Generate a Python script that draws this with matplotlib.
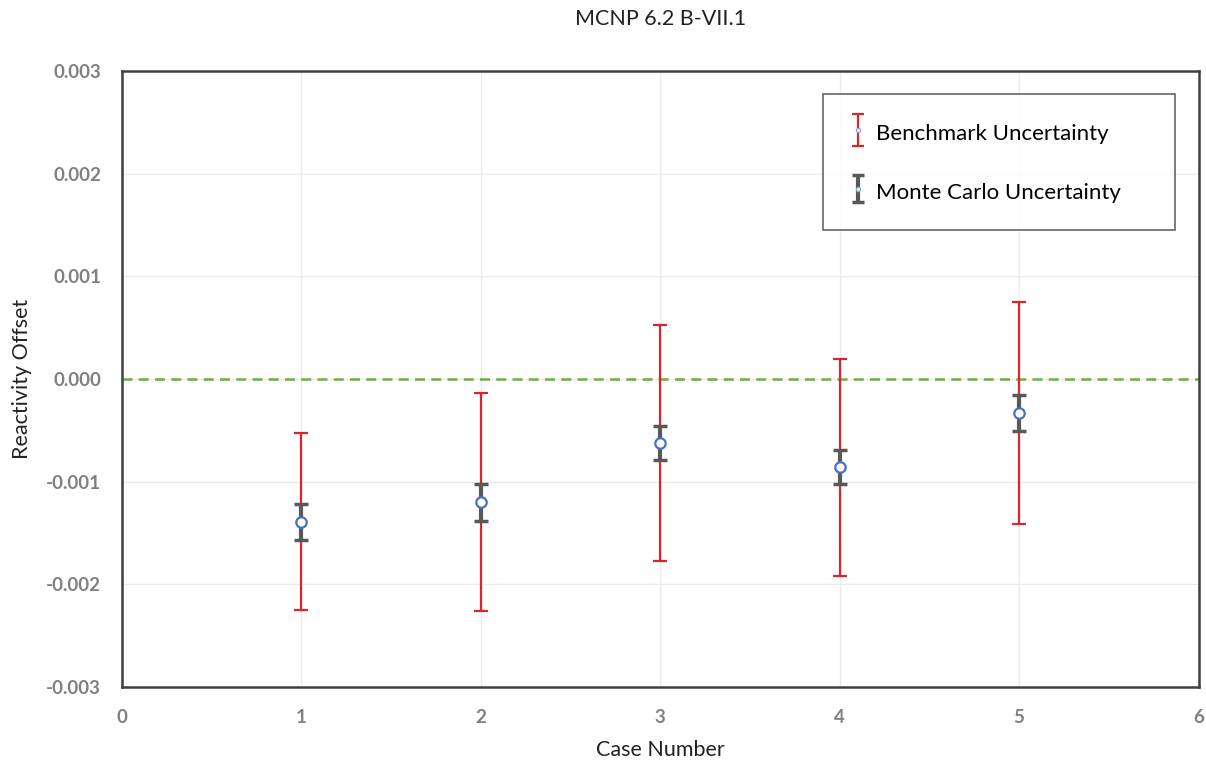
import numpy as np
from matplotlib import pyplot as plt
from matplotlib.legend_handler import HandlerErrorbar

plt.rcParams['font.family'] = ['Lato', 'DejaVu Sans']

# values
cases = [1, 2, 3, 4, 5]
offset = [-0.00139, -0.00120, -0.00062, -0.00086, -0.00033]
bench_unc = [0.00086, 0.00106, 0.00115, 0.00106, 0.00108]
mc_unc = [0.000175, 0.00018, 0.000165, 0.000165, 0.000175]
labels = ['Benchmark Uncertainty', 'Monte Carlo Uncertainty']

RED = '#d9262c'
GRAY = '#595959'
BLUE = '#4472c4'
GREEN = '#70ad47'

fig = plt.figure(figsize=(12.06, 7.65), dpi=100)
ax = fig.add_axes([0.1012, 0.102, 0.8926, 0.805])

ax.axhline(0.0, color=GREEN, ls=(0, (4, 2.5)), lw=1.8, zorder=2)

ax.errorbar(cases, offset, yerr=bench_unc, fmt='none', ecolor=RED,
            elinewidth=1.6, capsize=5, capthick=1.6, zorder=3)
ax.errorbar(cases, offset, yerr=mc_unc, fmt='none', ecolor=GRAY,
            elinewidth=3.0, capsize=5, capthick=2.5, zorder=4)
ax.plot(cases, offset, 'o', ms=7.5, mfc='white', mec=BLUE, mew=1.6,
        ls='none', zorder=5)

# legend proxies with small markers like the original
h1 = ax.errorbar([np.nan], [np.nan], yerr=[1], fmt='o', ms=3, mfc='white',
                 mec='#8faadc', ecolor=RED, elinewidth=1.6, capsize=4,
                 capthick=1.6)
h2 = ax.errorbar([np.nan], [np.nan], yerr=[1], fmt='o', ms=3, mfc='white',
                 mec='#8faadc', ecolor=GRAY, elinewidth=3.0, capsize=4,
                 capthick=2.5)
# trailing spaces give the wide right margin of the original box
leg = ax.legend([h1, h2], [labels[0], labels[1] + '     '],
                loc='upper right', bbox_to_anchor=(0.978, 0.963),
                fontsize=16, frameon=True, fancybox=False, handlelength=0.8,
                handletextpad=0.4, labelspacing=1.5, borderpad=1.15,
                borderaxespad=0, handleheight=1.4,
                handler_map={h1: HandlerErrorbar(yerr_size=0.72),
                             h2: HandlerErrorbar(yerr_size=0.6)})
leg.get_frame().set_edgecolor('#404040')
leg.get_frame().set_linewidth(1.2)

ax.set_xlim(0, 6)
ax.set_ylim(-0.003, 0.003)
ax.set_xticks(range(0, 7))
ax.set_yticks(np.arange(-0.003, 0.0031, 0.001))
ax.yaxis.set_major_formatter(plt.FuncFormatter(lambda v, p: '{:.3f}'.format(v)))
ax.tick_params(axis='y', length=0, pad=15, labelsize=13.5, labelcolor='#808080')
ax.tick_params(axis='x', length=0, pad=16, labelsize=13.5, labelcolor='#808080')
for lab in ax.get_xticklabels() + ax.get_yticklabels():
    lab.set_fontweight('bold')

ax.grid(True, color='#ebebeb', lw=1.0, zorder=0)
ax.set_axisbelow(True)
for sp in ax.spines.values():
    sp.set_color('#404040')
    sp.set_linewidth(1.8)

ax.set_title('MCNP 6.2 B-VII.1', fontsize=15.5, pad=33, color='#222222')
ax.set_xlabel('Case Number', fontsize=15.5, labelpad=10, color='#222222')
ax.set_ylabel('Reactivity Offset', fontsize=15.5, labelpad=10, color='#222222')

fig.savefig('out.png', dpi=100)
